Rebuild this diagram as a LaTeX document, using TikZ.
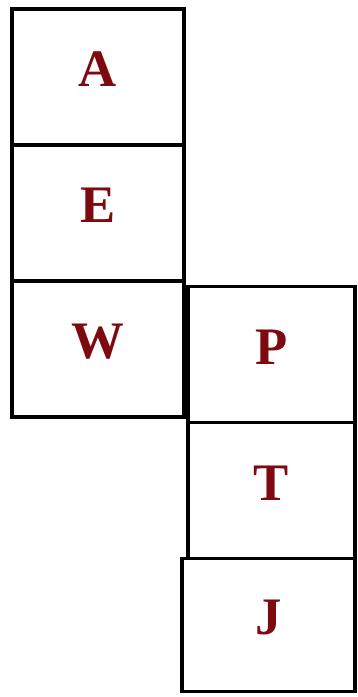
\documentclass[tikz,border=0pt]{standalone}
\usepackage{fontspec}
\setmainfont{Liberation Serif}
\usepackage{xcolor}
\usepackage{tikz}
\usetikzlibrary{positioning}
\definecolor{letterred}{RGB}{125,10,15}

\begin{document}
\begin{tikzpicture}[x=0.02cm,y=-0.02cm,node distance=0pt,
  cell/.style={rectangle, draw=black, line width=1.8pt, outer sep=0pt, inner sep=0pt,
               minimum width=3.44cm, minimum height=2.72cm, text depth=0.3cm,
               font=\fontsize{30}{36}\selectfont\bfseries, text=letterred}]
  \useasboundingbox (0,0) rectangle (358,697);
  \node[cell](A) at (98,77){A};
  \node[cell,below=of A](E){E};
  \node[cell,below=of E](W){W};
  \node[cell,minimum width=3.34cm](P) at (271.5,354.5){P};
  \node[cell,minimum width=3.34cm,below=of P](T){T};
  \node[cell,minimum width=3.46cm,minimum height=2.66cm,below=of T,xshift=-0.06cm](J){J};
\end{tikzpicture}
\end{document}
